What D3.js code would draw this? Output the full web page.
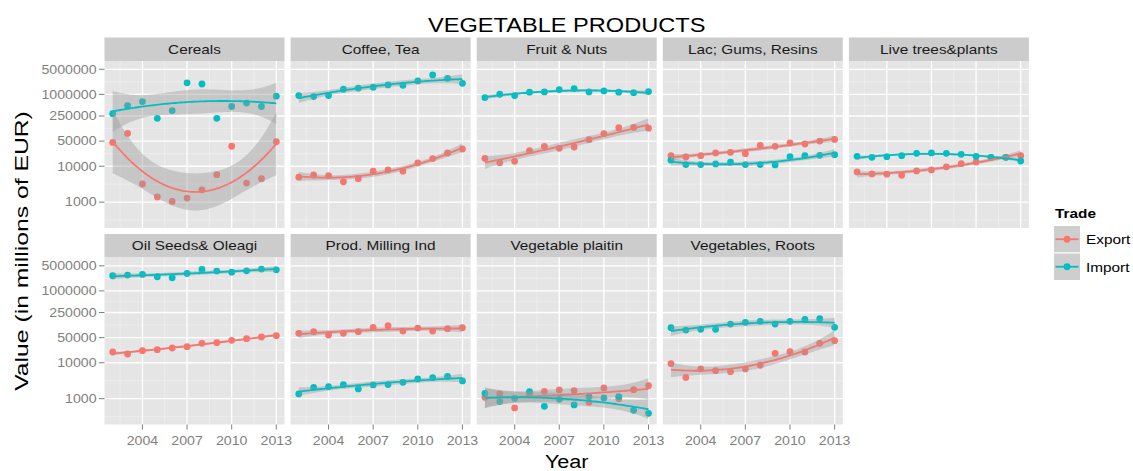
<!DOCTYPE html>
<html>
<head>
<meta charset="utf-8">
<script src="https://cdn.jsdelivr.net/npm/d3@7"></script>
<style>
  body { margin: 0; background: #fff; }
  text { font-family: Arial, "Liberation Sans", sans-serif; }
</style>
</head>
<body>
<svg id="chart" width="1133" height="471"></svg>
<script>
// ---- data -------------------------------------------------------------
const years = [2002, 2003, 2004, 2005, 2006, 2007, 2008, 2009, 2010, 2011, 2012, 2013];
const panelNames = ["Cereals", "Coffee, Tea", "Fruit & Nuts", "Lac; Gums, Resins", "Live trees&plants",
                    "Oil Seeds& Oleagi", "Prod. Milling Ind", "Vegetable plaitin", "Vegetables, Roots"];
const tradeTypes = ["Export", "Import"];
const yTicks = [1000, 10000, 50000, 250000, 1000000, 5000000];
const xTicks = [2004, 2007, 2010, 2013];

const cerealsExport   = [46000, 82000, 3200, 1400, 1050, 1300, 2200, 5800, 36000, 3400, 4500, 48000];
const cerealsImport   = [290000, 490000, 630000, 215000, 355000, 2100000, 1950000, 215000, 460000, 575000, 460000, 890000];
const coffeeExport    = [4950, 5700, 5500, 3700, 4500, 7300, 7900, 7300, 12400, 16300, 23400, 30200];
const coffeeImport    = [930000, 870000, 930000, 1390000, 1490000, 1580000, 1840000, 1800000, 2370000, 3480000, 2810000, 2040000];
const fruitExport     = [16600, 12400, 13700, 27100, 35800, 31500, 34300, 54800, 80400, 118000, 120000, 115000];
const fruitImport     = [818000, 1010000, 930000, 1150000, 1170000, 1360000, 1450000, 1170000, 1250000, 1150000, 1120000, 1200000];
const lacExport       = [19700, 18100, 19700, 23400, 24400, 22400, 38200, 35800, 44300, 41600, 50300, 55900];
const lacImport       = [14700, 11100, 11100, 11600, 12900, 11100, 11100, 10900, 18500, 19700, 20100, 21000];
const liveExport      = [6950, 6100, 6000, 5600, 7400, 7900, 9600, 11800, 13200, 17700, 17700, 19700];
const liveImport      = [18900, 17700, 18500, 19700, 22900, 23400, 22900, 21500, 18900, 17700, 17700, 14000];
const oilExport       = [19900, 17500, 21700, 23100, 25700, 28000, 34600, 36200, 42000, 46700, 52000, 56600];
const oilImport       = [2640000, 2750000, 2870000, 2480000, 2320000, 3060000, 3960000, 3560000, 3330000, 3630000, 4040000, 3870000];
const millingExport   = [65700, 73100, 59100, 65700, 73100, 96600, 107000, 76300, 92500, 76300, 88500, 94500];
const millingImport   = [1350, 2070, 2160, 2460, 1860, 2410, 2460, 2850, 3530, 3850, 4190, 3110];
const plaitinExport   = [1090, 1350, 550, 1270, 1600, 1750, 1670, 790, 1990, 1000, 1780, 2300];
const plaitinImport   = [1410, 830, 1020, 1570, 610, 960, 670, 1140, 1050, 1140, 475, 390];
const vegExport       = [9400, 3900, 6700, 6000, 5650, 6700, 8500, 18300, 20300, 19900, 34600, 41100];
const vegImport       = [94500, 81300, 84900, 84900, 119000, 133000, 142000, 119000, 142000, 161000, 168000, 96600];

const exportSeries = [cerealsExport, coffeeExport, fruitExport, lacExport, liveExport,
                      oilExport, millingExport, plaitinExport, vegExport];
const importSeries = [cerealsImport, coffeeImport, fruitImport, lacImport, liveImport,
                      oilImport, millingImport, plaitinImport, vegImport];

// ---- quadratic trend with 95% confidence band ---------------------------
function inv3(m) {
  const [a, b, c] = m[0], [d, e, f] = m[1], [g, h, i] = m[2];
  const A = e * i - f * h, B = -(d * i - f * g), C = d * h - e * g;
  const det = a * A + b * B + c * C;
  return [
    [A / det, -(b * i - c * h) / det, (b * f - c * e) / det],
    [B / det, (a * i - c * g) / det, -(a * f - c * d) / det],
    [C / det, -(a * h - b * g) / det, (a * e - b * d) / det]
  ];
}
function lgamma(z) {
  const g = 7, p = [0.99999999999980993, 676.5203681218851, -1259.1392167224028, 771.32342877765313,
    -176.61502916214059, 12.507343278686905, -0.13857109526572012, 9.9843695780195716e-6, 1.5056327351493116e-7];
  z -= 1;
  let x = p[0];
  for (let k = 1; k < g + 2; k++) x += p[k] / (z + k);
  const t = z + g + 0.5;
  return 0.5 * Math.log(2 * Math.PI) + (z + 0.5) * Math.log(t) - t + Math.log(x);
}
function qt975(df) {
  const c = Math.exp(lgamma((df + 1) / 2) - lgamma(df / 2)) / Math.sqrt(df * Math.PI);
  const dens = t => c * Math.pow(1 + t * t / df, -(df + 1) / 2);
  const cdfHalf = t => {
    const n = 400, h = t / n; let s = dens(0) + dens(t);
    for (let k = 1; k < n; k++) s += dens(k * h) * (k % 2 ? 4 : 2);
    return s * h / 3;
  };
  let lo = 0, hi = 20;
  for (let it = 0; it < 60; it++) { const mid = (lo + hi) / 2; if (cdfHalf(mid) < 0.475) lo = mid; else hi = mid; }
  return (lo + hi) / 2;
}
function quadSmooth(xs, ys, nOut) {
  const n = xs.length, xm = d3.mean(xs);
  const row = x => { const t = x - xm; return [1, t, t * t]; };
  const X = xs.map(row);
  const XtX = [[0, 0, 0], [0, 0, 0], [0, 0, 0]], Xty = [0, 0, 0];
  X.forEach((r, k) => {
    for (let a = 0; a < 3; a++) {
      Xty[a] += r[a] * ys[k];
      for (let b = 0; b < 3; b++) XtX[a][b] += r[a] * r[b];
    }
  });
  const Inv = inv3(XtX);
  const beta = Inv.map(r => r[0] * Xty[0] + r[1] * Xty[1] + r[2] * Xty[2]);
  const pred = r => beta[0] * r[0] + beta[1] * r[1] + beta[2] * r[2];
  const rss = d3.sum(X, (r, k) => (ys[k] - pred(r)) ** 2);
  const df = n - 3, sigma = Math.sqrt(rss / df), tq = qt975(df);
  const x0s = d3.range(nOut).map(k => xs[0] + (xs[n - 1] - xs[0]) * k / (nOut - 1));
  return x0s.map(x0 => {
    const r = row(x0), fit = pred(r);
    let v = 0;
    for (let a = 0; a < 3; a++) for (let b = 0; b < 3; b++) v += r[a] * Inv[a][b] * r[b];
    const se = sigma * Math.sqrt(v);
    return { x: x0, fit, lo: fit - tq * se, hi: fit + tq * se };
  });
}

// ---- layout ------------------------------------------------------------
const svg = d3.select("#chart");
const colours = { Export: "#F8766D", Import: "#00BFC4" };
const panelW = 180, panelH = 167, stripH = 23.5;
const colLeft = c => 104.5 + c * 186.1;
const rowTop = r => [37.5, 234][r];
const logLo = 2.28, logHi = 6.93;

const x = d3.scaleLinear().domain([2001.45, 2013.55]).range([0, panelW]);
const y = d3.scaleLog().domain([10 ** logLo, 10 ** logHi]).range([panelH, 0]);

const yMajorLog = yTicks.map(Math.log10);
const yMinorLog = [yMajorLog[0] - (yMajorLog[1] - yMajorLog[0]) / 2]
  .concat(d3.pairs(yMajorLog).map(([a, b]) => (a + b) / 2))
  .filter(v => v > logLo && v < logHi);
const xMinor = [xTicks[0] - 1.5].concat(d3.pairs(xTicks).map(([a, b]) => (a + b) / 2))
  .filter(v => v > x.domain()[0] && v < x.domain()[1]);

const stretched = [];   // [node, widening factor]

panelNames.forEach((name, i) => {
  const col = i % 5, row = Math.floor(i / 5);
  const left = colLeft(col), top = rowTop(row);
  const g = svg.append("g").attr("transform", `translate(${left},${top})`);

  // strip
  g.append("rect").attr("width", panelW).attr("height", stripH).attr("fill", "#CCCCCC");
  stretched.push([g.append("text").attr("x", panelW / 2).attr("y", stripH / 2 + 4.6)
    .attr("text-anchor", "middle").attr("font-size", 13).attr("fill", "#1A1A1A").text(name).node(), 1.18]);

  const p = g.append("g").attr("transform", `translate(0,${stripH})`);
  const clipId = "clip" + i;
  p.append("clipPath").attr("id", clipId).append("rect").attr("width", panelW).attr("height", panelH);
  p.append("rect").attr("width", panelW).attr("height", panelH).attr("fill", "#E5E5E5");

  // grid
  p.selectAll(".hmin").data(yMinorLog).join("line")
    .attr("x1", 0).attr("x2", panelW).attr("y1", d => y(10 ** d)).attr("y2", d => y(10 ** d))
    .attr("stroke", "#F2F2F2").attr("stroke-width", 0.6);
  p.selectAll(".vmin").data(xMinor).join("line")
    .attr("y1", 0).attr("y2", panelH).attr("x1", d => x(d)).attr("x2", d => x(d))
    .attr("stroke", "#F2F2F2").attr("stroke-width", 0.6);
  p.selectAll(".hmaj").data(yTicks).join("line")
    .attr("x1", 0).attr("x2", panelW).attr("y1", d => y(d)).attr("y2", d => y(d))
    .attr("stroke", "#FFFFFF").attr("stroke-width", 1.3);
  p.selectAll(".vmaj").data(xTicks).join("line")
    .attr("y1", 0).attr("y2", panelH).attr("x1", d => x(d)).attr("x2", d => x(d))
    .attr("stroke", "#FFFFFF").attr("stroke-width", 1.3);

  const plot = p.append("g").attr("clip-path", `url(#${clipId})`);
  const bySeries = { Export: exportSeries[i], Import: importSeries[i] };

  // points
  tradeTypes.forEach(t => {
    plot.selectAll(null).data(bySeries[t]).join("circle")
      .attr("cx", (d, k) => x(years[k])).attr("cy", d => y(d)).attr("r", 3.4)
      .attr("fill", colours[t]);
  });
  // trend curves fitted on the log10 scale
  tradeTypes.forEach(t => {
    const sm = quadSmooth(years, bySeries[t].map(Math.log10), 80);
    plot.append("path").datum(sm)
      .attr("d", d3.area().x(d => x(d.x)).y0(d => y(10 ** d.lo)).y1(d => y(10 ** d.hi)))
      .attr("fill", "#999999").attr("fill-opacity", 0.4);
    plot.append("path").datum(sm)
      .attr("d", d3.line().x(d => x(d.x)).y(d => y(10 ** d.fit)))
      .attr("fill", "none").attr("stroke", colours[t]).attr("stroke-width", 1.8);
  });

  // y axis on the first column
  if (col === 0) {
    const ya = p.append("g");
    ya.selectAll("line").data(yTicks).join("line")
      .attr("x1", -5.5).attr("x2", 0).attr("y1", d => y(d)).attr("y2", d => y(d))
      .attr("stroke", "#7F7F7F").attr("stroke-width", 1);
    ya.selectAll("text").data(yTicks).join("text")
      .attr("x", -8).attr("y", d => y(d) + 4.3).attr("text-anchor", "end")
      .attr("font-size", 12).attr("fill", "#7F7F7F").text(d => d3.format("d")(d))
      .each(function () { stretched.push([this, 1.18]); });
  }
  // x axis on the bottom row
  if (row === 1) {
    const xa = p.append("g").attr("transform", `translate(0,${panelH})`);
    xa.selectAll("line").data(xTicks).join("line")
      .attr("x1", d => x(d)).attr("x2", d => x(d)).attr("y1", 0).attr("y2", 5)
      .attr("stroke", "#7F7F7F").attr("stroke-width", 1);
    xa.selectAll("text").data(xTicks).join("text")
      .attr("x", d => x(d)).attr("y", 20).attr("text-anchor", "middle")
      .attr("font-size", 12).attr("fill", "#7F7F7F").text(d => d)
      .each(function () { stretched.push([this, 1.18]); });
  }
});

// titles
stretched.push([svg.append("text").attr("x", 566.7).attr("y", 31.5).attr("text-anchor", "middle")
  .attr("font-size", 20).attr("fill", "#000").text("VEGETABLE PRODUCTS").node(), 1.18]);
stretched.push([svg.append("text").attr("x", 566.7).attr("y", 467.5).attr("text-anchor", "middle")
  .attr("font-size", 18).attr("fill", "#000").text("Year").node(), 1.2]);
stretched.push([svg.append("text").attr("transform", "translate(28,251) rotate(-90)")
  .attr("text-anchor", "middle").attr("font-size", 19).attr("fill", "#000")
  .text("Value (in millions of EUR)").node(), 1.3]);

// legend
const lg = svg.append("g").attr("transform", "translate(1053.5,0)");
stretched.push([lg.append("text").attr("x", 1.5).attr("y", 217.5).attr("font-size", 13)
  .attr("font-weight", "bold").attr("fill", "#000").text("Trade").node(), 1.18]);
tradeTypes.forEach((t, k) => {
  const ky = 225.5 + k * 27.5;
  lg.append("rect").attr("y", ky).attr("width", 27).attr("height", 27.5)
    .attr("fill", "#CECECE").attr("stroke", "#FFFFFF").attr("stroke-width", 1);
  lg.append("line").attr("x1", 2).attr("x2", 25).attr("y1", ky + 13.75).attr("y2", ky + 13.75)
    .attr("stroke", colours[t]).attr("stroke-width", 1.8);
  lg.append("circle").attr("cx", 13.5).attr("cy", ky + 13.75).attr("r", 3.4).attr("fill", colours[t]);
  stretched.push([lg.append("text").attr("x", 32.5).attr("y", ky + 18.5).attr("font-size", 13)
    .attr("fill", "#000").text(t).node(), 1.18]);
});

// wider glyph rendering for all labels
stretched.forEach(([node, k]) => {
  const len = node.getComputedTextLength();
  node.setAttribute("textLength", len * k);
  node.setAttribute("lengthAdjust", "spacingAndGlyphs");
});
</script>
</body>
</html>
